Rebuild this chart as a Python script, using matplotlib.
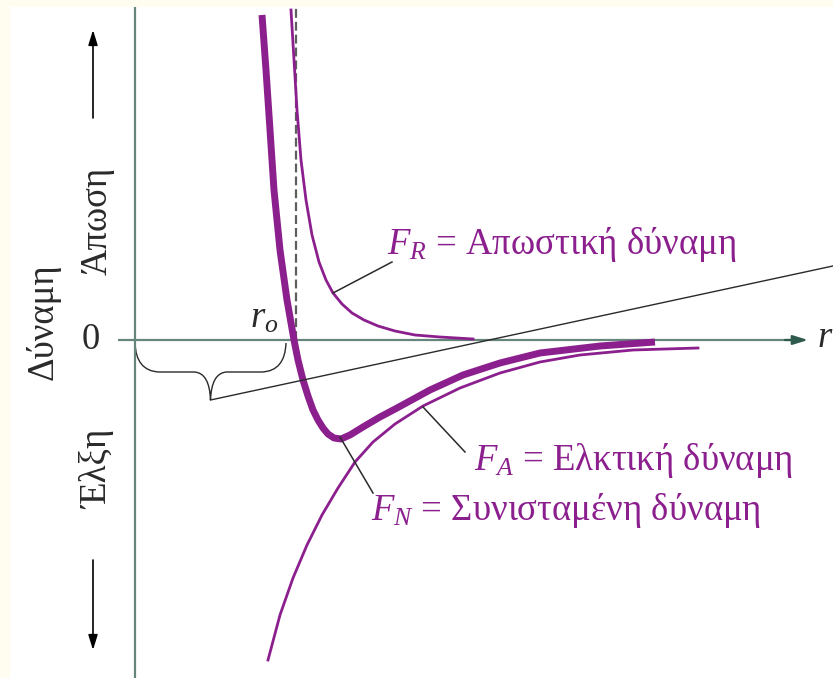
import matplotlib
matplotlib.use("Agg")
import matplotlib.pyplot as plt
from matplotlib.path import Path
from matplotlib.patches import PathPatch

# ===============================
# STYLE
# ===============================
plt.rcParams["font.family"] = ["Liberation Serif", "DejaVu Serif"]
plt.rcParams["mathtext.fontset"] = "custom"
plt.rcParams["mathtext.rm"] = "Liberation Serif"
plt.rcParams["mathtext.it"] = "Liberation Serif:italic"

PURPLE = "#8c1f8e"
AXIS = "#66857c"
ARROW_HEAD = "#2d5a4c"
INK = "#2a2a2a"
FS = 26.5

# ===============================
# CURVES (arbitrary units: r along x, force along y)
# ===============================
r_net = [127, 131, 135, 139, 145, 152, 159, 163, 168, 173, 178, 183, 188,
         193, 199, 206, 215, 228, 245, 262, 295, 328, 365, 405, 465, 520]
f_net = [325, 270, 210, 150, 90, 40, 0, -20, -40, -56, -70, -80, -88,
         -94, -98, -99, -95, -87, -77, -68, -50, -35, -23, -13, -6, -2]

r_rep = [156, 159, 162, 166, 171, 177, 184, 191, 198, 207, 217, 229, 243,
         260, 280, 305, 338]
f_rep = [330, 280, 230, 180, 140, 105, 78, 60, 47, 36, 27, 20, 14,
         9, 5, 3, 1]

r_att = [133, 145, 158, 172, 187, 203, 220, 238, 260, 288, 325, 365, 405,
         445, 498, 563]
f_att = [-320, -275, -238, -205, -175, -148, -122, -102, -84, -66, -48, -33,
         -22, -15, -10, -8]

r0 = 161          # equilibrium separation (dashed line)
brace_end = 151   # right end of the brace under the r axis

labels = {
    "rep": r"$F_R$ = Απωστική δύναμη",
    "att": r"$F_A$ = Ελκτική δύναμη",
    "net": r"$F_N$ = Συνισταμένη δύναμη",
}

# ===============================
# FIGURE
# ===============================
fig = plt.figure(figsize=(8.33, 6.78), dpi=100, facecolor="#fffdf0")
ax = fig.add_axes([10 / 833, 0, 823 / 833, 671 / 678])
ax.set_facecolor("white")
ax.set_xlim(-125, 698)
ax.set_ylim(-338, 333)
ax.set_xticks([])
ax.set_yticks([])
for s in ax.spines.values():
    s.set_visible(False)

# axes
ax.plot([0, 0], [-338, 333], color=AXIS, lw=1.6, solid_capstyle="butt")
ax.plot([-17, 660], [0, 0], color=AXIS, lw=1.6, solid_capstyle="butt")
ax.annotate("", xy=(673, 0), xytext=(650, 0),
            arrowprops=dict(arrowstyle="-|>,head_length=0.9,head_width=0.28",
                            color=ARROW_HEAD, lw=1.6, shrinkA=0, shrinkB=0))
ax.text(682, 2, "$r$", fontsize=FS, ha="left", va="center", color=INK)

# dashed line at r0
ax.plot([r0, r0], [0, 333], color="#5e5e5e", lw=1.6, ls=(0, (4, 1.8)))

# curves
ax.plot(r_rep, f_rep, color=PURPLE, lw=2.0, solid_joinstyle="round")
ax.plot(r_att, f_att, color=PURPLE, lw=2.0, solid_joinstyle="round")
ax.plot(r_net, f_net, color=PURPLE, lw=5.0, solid_joinstyle="round",
        solid_capstyle="butt")

# brace from origin to r0 and its leader line
mid = brace_end / 2
verts = [(0, -3), (1, -31), (24, -32), (mid - 16, -32), (mid - 1, -33),
         (mid, -60), (mid + 1, -33), (mid + 16, -32), (brace_end - 24, -32),
         (brace_end - 1, -31), (brace_end, -3)]
codes = [Path.MOVETO, Path.CURVE3, Path.CURVE3, Path.LINETO, Path.CURVE3,
         Path.CURVE3, Path.CURVE3, Path.CURVE3, Path.LINETO, Path.CURVE3,
         Path.CURVE3]
ax.add_patch(PathPatch(Path(verts, codes), fc="none", ec=INK, lw=1.0))
ax.plot([mid, 698], [-60, -60 + 0.2153 * (698 - mid)], color=INK, lw=1.0)

# leader lines
ax.plot([198, 257], [47, 78], color=INK, lw=1.1)
ax.plot([288, 330], [-67, -112], color=INK, lw=1.1)
ax.plot([205, 238], [-97, -153], color=INK, lw=1.1)

# curve labels
ax.text(252, 95, labels["rep"], fontsize=FS, color=PURPLE, va="center")
ax.text(339, -120, labels["att"], fontsize=FS, color=PURPLE, va="center")
ax.text(236, -170, labels["net"], fontsize=FS, color=PURPLE, va="center")
ax.text(143, 22, "$r_o$", fontsize=FS, color=INK, ha="right", va="center")

# y-axis labels and direction arrows
ax.text(-44, 0, "0", fontsize=FS, color=INK, ha="center", va="center")
ax.text(-92, 18, "Δύναμη", fontsize=FS, color=INK, rotation=90,
        ha="center", va="center")
ax.text(-38, 119, "Άπωση", fontsize=FS, color=INK, rotation=90,
        ha="center", va="center")
ax.text(-37, -129, "Έλξη", fontsize=FS, color=INK, rotation=90,
        ha="center", va="center")
ax.annotate("", xy=(-42, 310), xytext=(-42, 222),
            arrowprops=dict(arrowstyle="-|>,head_length=0.9,head_width=0.28",
                            color="black", lw=1.2, shrinkA=0, shrinkB=0))
ax.annotate("", xy=(-42, -310), xytext=(-42, -220),
            arrowprops=dict(arrowstyle="-|>,head_length=0.9,head_width=0.28",
                            color="black", lw=1.2, shrinkA=0, shrinkB=0))

fig.savefig("out.png", dpi=100, facecolor=fig.get_facecolor())
